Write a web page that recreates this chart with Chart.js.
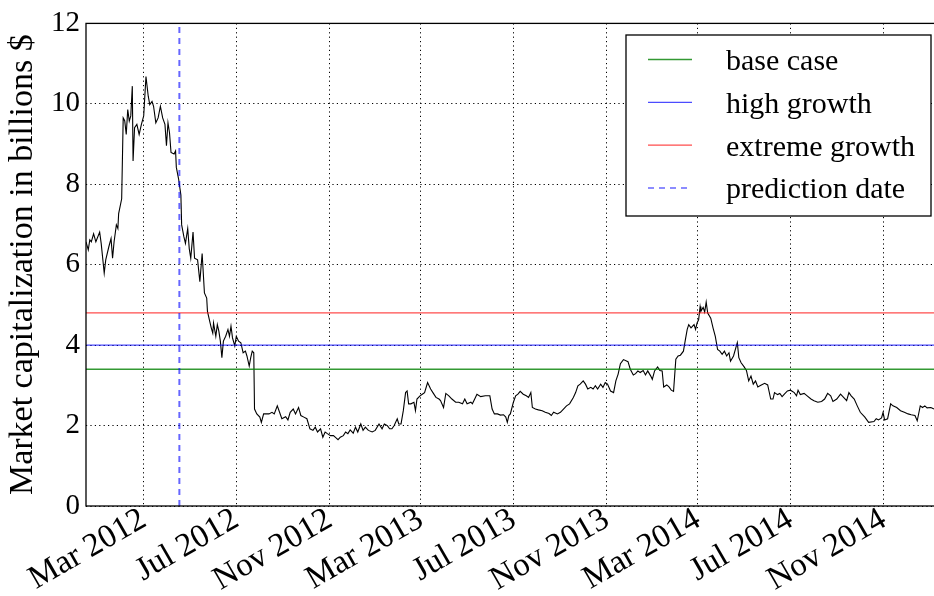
<!DOCTYPE html>
<html>
<head>
<meta charset="utf-8">
<script src="https://cdn.jsdelivr.net/npm/chart.js@4"></script>
<style>
  html, body { margin: 0; padding: 0; background: #fff; overflow: hidden; }
  #wrap { width: 934px; height: 596px; overflow: hidden; }
</style>
</head>
<body>
<div id="wrap"><canvas id="capChart" width="944" height="596"></canvas></div>
<script>
// market cap series, billions $
const capDates = [
  '2011-12-16','2011-12-19','2011-12-21','2011-12-23','2011-12-26','2011-12-29','2012-01-03','2012-01-05','2012-01-09','2012-01-11',
  '2012-01-15','2012-01-18','2012-01-20','2012-01-22','2012-01-25','2012-01-27','2012-01-28','2012-02-01','2012-02-03','2012-02-05',
  '2012-02-07','2012-02-09','2012-02-11','2012-02-13','2012-02-15','2012-02-16','2012-02-18','2012-02-21','2012-02-24','2012-02-27',
  '2012-03-01','2012-03-04','2012-03-07','2012-03-09','2012-03-12','2012-03-14','2012-03-17','2012-03-20','2012-03-23','2012-03-26',
  '2012-03-29','2012-03-31','2012-04-02','2012-04-04','2012-04-06','2012-04-10','2012-04-12','2012-04-13','2012-04-16','2012-04-19',
  '2012-04-20','2012-04-23','2012-04-25','2012-04-28','2012-04-30','2012-05-02','2012-05-05','2012-05-07','2012-05-11','2012-05-14',
  '2012-05-17','2012-05-20','2012-05-23','2012-05-24','2012-05-27','2012-05-29','2012-05-31','2012-06-01','2012-06-04','2012-06-06',
  '2012-06-08','2012-06-10','2012-06-12','2012-06-14','2012-06-17','2012-06-20','2012-06-22','2012-06-24','2012-06-26','2012-06-29',
  '2012-07-01','2012-07-04','2012-07-07','2012-07-10','2012-07-13','2012-07-15','2012-07-18','2012-07-20','2012-07-22','2012-07-24',
  '2012-07-25','2012-07-28','2012-08-01','2012-08-03','2012-08-06','2012-08-11','2012-08-13','2012-08-17','2012-08-20','2012-08-24',
  '2012-08-27','2012-08-30','2012-09-04','2012-09-07','2012-09-10','2012-09-14','2012-09-17','2012-09-21','2012-09-24','2012-09-28',
  '2012-10-02','2012-10-06','2012-10-10','2012-10-13','2012-10-16','2012-10-20','2012-10-23','2012-10-26','2012-10-29','2012-11-02',
  '2012-11-06','2012-11-09','2012-11-12','2012-11-15','2012-11-19','2012-11-22','2012-11-25','2012-11-28','2012-12-02','2012-12-05',
  '2012-12-08','2012-12-12','2012-12-15','2012-12-18','2012-12-22','2012-12-27','2012-12-31','2013-01-05','2013-01-09','2013-01-12',
  '2013-01-16','2013-01-19','2013-01-22','2013-01-25','2013-01-29','2013-01-31','2013-02-03','2013-02-06','2013-02-09','2013-02-11',
  '2013-02-13','2013-02-16','2013-02-20','2013-02-22','2013-02-24','2013-02-28','2013-03-03','2013-03-06','2013-03-10','2013-03-14',
  '2013-03-17','2013-03-21','2013-03-25','2013-03-27','2013-03-31','2013-04-03','2013-04-07','2013-04-11','2013-04-16','2013-04-20',
  '2013-04-25','2013-04-28','2013-05-01','2013-05-06','2013-05-08','2013-05-12','2013-05-14','2013-05-19','2013-05-25','2013-05-31',
  '2013-06-03','2013-06-06','2013-06-10','2013-06-14','2013-06-18','2013-06-21','2013-06-23','2013-06-25','2013-06-27','2013-07-01',
  '2013-07-04','2013-07-07','2013-07-10','2013-07-14','2013-07-18','2013-07-21','2013-07-24','2013-07-26','2013-07-30','2013-08-03',
  '2013-08-08','2013-08-12','2013-08-17','2013-08-20','2013-08-23','2013-08-28','2013-09-01','2013-09-05','2013-09-09','2013-09-13',
  '2013-09-18','2013-09-21','2013-09-24','2013-09-27','2013-10-01','2013-10-04','2013-10-07','2013-10-11','2013-10-14','2013-10-17',
  '2013-10-20','2013-10-24','2013-10-27','2013-10-30','2013-11-02','2013-11-06','2013-11-10','2013-11-13','2013-11-16','2013-11-19',
  '2013-11-23','2013-11-29','2013-12-02','2013-12-06','2013-12-09','2013-12-12','2013-12-15','2013-12-19','2013-12-22','2013-12-25',
  '2013-12-29','2013-12-31','2014-01-03','2014-01-07','2014-01-10','2014-01-13','2014-01-15','2014-01-19','2014-01-22','2014-01-25',
  '2014-01-28','2014-01-31','2014-02-03','2014-02-06','2014-02-10','2014-02-13','2014-02-15','2014-02-17','2014-02-20','2014-02-24',
  '2014-02-26','2014-02-28','2014-03-02','2014-03-04','2014-03-05','2014-03-08','2014-03-10','2014-03-12','2014-03-14','2014-03-18',
  '2014-03-21','2014-03-24','2014-03-27','2014-03-30','2014-04-02','2014-04-05','2014-04-08','2014-04-11','2014-04-13','2014-04-17',
  '2014-04-20','2014-04-22','2014-04-24','2014-04-27','2014-05-01','2014-05-04','2014-05-07','2014-05-10','2014-05-13','2014-05-16',
  '2014-05-19','2014-05-23','2014-05-28','2014-06-01','2014-06-05','2014-06-08','2014-06-10','2014-06-14','2014-06-17','2014-06-20',
  '2014-06-23','2014-06-27','2014-07-01','2014-07-06','2014-07-09','2014-07-11','2014-07-14','2014-07-19','2014-07-23','2014-07-28',
  '2014-08-01','2014-08-06','2014-08-11','2014-08-15','2014-08-19','2014-08-23','2014-08-26','2014-08-31','2014-09-05','2014-09-09',
  '2014-09-13','2014-09-16','2014-09-19','2014-09-23','2014-09-27','2014-10-01','2014-10-07','2014-10-12','2014-10-19','2014-10-22',
  '2014-10-25','2014-10-29','2014-10-31','2014-11-02','2014-11-06','2014-11-10','2014-11-13','2014-11-18','2014-11-23','2014-11-28',
  '2014-12-03','2014-12-07','2014-12-12','2014-12-15','2014-12-19','2014-12-22','2014-12-25','2014-12-28','2015-01-02','2015-01-06'
];
const capValues = [
  6.57,6.37,6.62,6.57,6.77,6.57,6.81,6.53,5.79,6.12,
  6.44,6.65,6.16,6.57,6.99,6.90,7.27,7.64,9.65,9.58,
  9.24,9.86,9.57,9.70,10.44,8.58,9.41,9.49,9.24,9.49,
  9.70,10.68,10.19,9.98,10.06,9.94,9.53,9.65,9.94,9.65,
  9.49,8.96,9.53,9.28,8.79,8.75,8.83,8.42,8.13,7.73,
  6.99,6.69,6.53,6.90,6.40,6.16,6.81,6.16,6.12,5.58,
  6.28,5.30,5.17,4.84,4.59,4.43,4.30,4.55,4.22,4.51,
  4.35,4.10,3.69,4.10,4.22,4.39,4.22,4.47,4.18,3.98,
  4.22,4.10,4.06,3.81,3.85,3.73,3.48,3.69,3.85,3.81,
  2.41,2.29,2.21,2.08,2.29,2.29,2.29,2.33,2.29,2.49,
  2.33,2.17,2.22,2.14,2.33,2.41,2.29,2.45,2.25,2.21,
  2.17,1.92,1.88,1.96,1.84,1.92,1.71,1.84,1.80,1.75,
  1.75,1.70,1.65,1.71,1.75,1.84,1.80,1.89,1.81,1.96,
  1.84,2.04,1.88,1.96,1.88,1.84,1.88,2.04,1.92,2.04,
  2.00,1.92,1.92,2.00,2.17,2.04,2.04,2.37,2.82,2.86,
  2.54,2.54,2.58,2.37,2.66,2.74,2.78,2.82,3.07,2.91,
  2.82,2.70,2.66,2.62,2.45,2.80,2.74,2.66,2.58,2.58,
  2.54,2.66,2.54,2.58,2.54,2.70,2.78,2.72,2.74,2.74,
  2.41,2.29,2.29,2.26,2.27,2.21,2.08,2.25,2.29,2.58,
  2.74,2.78,2.85,2.78,2.74,2.70,2.82,2.45,2.41,2.39,
  2.37,2.33,2.30,2.25,2.33,2.29,2.33,2.41,2.49,2.54,
  2.70,2.82,2.99,3.03,3.11,3.03,2.91,2.95,2.91,2.99,
  2.91,3.03,2.95,3.07,3.03,2.86,2.82,3.11,3.28,3.54,
  3.64,3.59,3.40,3.26,3.29,3.36,3.32,3.37,3.26,3.36,
  3.23,3.15,3.36,3.46,3.37,3.36,2.96,3.01,2.96,2.88,
  2.85,3.65,3.73,3.75,3.85,4.18,4.39,4.51,4.43,4.51,
  4.39,4.55,4.63,4.96,4.84,4.94,4.82,5.07,4.80,4.67,
  4.43,4.22,3.89,3.85,3.77,3.85,3.73,3.81,3.60,3.73,
  3.93,4.06,3.69,3.56,3.46,3.37,3.11,3.23,3.03,3.11,
  2.96,3.00,3.05,3.01,2.66,2.66,2.82,2.77,2.80,2.72,
  2.78,2.86,2.88,2.82,2.74,2.88,2.77,2.80,2.74,2.66,
  2.62,2.58,2.60,2.66,2.80,2.74,2.60,2.66,2.78,2.70,
  2.62,2.82,2.74,2.66,2.49,2.33,2.21,2.08,2.10,2.17,
  2.14,2.19,2.33,2.14,2.17,2.54,2.49,2.45,2.37,2.33,
  2.29,2.27,2.25,2.12,2.49,2.45,2.49,2.44,2.45,2.41
];

const scenarioLabels = ['base case', 'high growth', 'extreme growth'];
const scenarioValues = [3.4, 4.0, 4.8];
const scenarioColors = ['rgba(0,128,0,0.8)', 'rgba(0,0,255,0.7)', 'rgba(255,0,0,0.7)'];

const predictionDate = '2012-04-17';
const xRange = ['2011-12-16', '2015-01-14'];
const xTickDates = ['2012-03-01','2012-07-01','2012-11-01','2013-03-01','2013-07-01','2013-11-01','2014-03-01','2014-07-01','2014-11-01'];
const yTicks = [0, 2, 4, 6, 8, 10, 12];
const monthNames = ['Jan','Feb','Mar','Apr','May','Jun','Jul','Aug','Sep','Oct','Nov','Dec'];

const SERIF = "'Liberation Serif', 'DejaVu Serif', serif";
const xMin = Date.parse(xRange[0]);
const xMax = Date.parse(xRange[1]);

const datasets = [{
  label: '',
  data: capDates.map((d, i) => ({x: Date.parse(d), y: capValues[i]})),
  borderColor: '#000',
  borderWidth: 1.1,
  pointRadius: 0,
  tension: 0,
  order: 5
}];
scenarioLabels.forEach((lab, i) => {
  datasets.push({
    label: lab,
    data: [{x: xMin, y: scenarioValues[i]}, {x: xMax, y: scenarioValues[i]}],
    borderColor: scenarioColors[i],
    borderWidth: 1.3,
    pointRadius: 0,
    order: 2
  });
});
datasets.push({
  label: 'prediction date',
  data: [{x: Date.parse(predictionDate), y: yTicks[0]}, {x: Date.parse(predictionDate), y: yTicks[yTicks.length - 1]}],
  borderColor: 'rgba(0,0,255,0.6)',
  borderWidth: 2,
  borderDash: [6, 5],
  pointRadius: 0,
  order: 1
});

// box around the plot + matplotlib style legend
const frameAndLegend = {
  id: 'frameAndLegend',
  afterDatasetsDraw(chart) {
    const {ctx, chartArea: {left, right, top, bottom}} = chart;
    ctx.save();
    ctx.strokeStyle = '#000';
    ctx.lineWidth = 1.3;
    ctx.strokeRect(left, top, right - left, bottom - top);

    const items = chart.data.datasets.filter(ds => ds.label);
    const bx = 626, by = 35, bw = 305, bh = 181;
    ctx.fillStyle = '#fff';
    ctx.fillRect(bx, by, bw, bh);
    ctx.strokeStyle = '#000';
    ctx.lineWidth = 1.3;
    ctx.strokeRect(bx, by, bw, bh);
    ctx.font = '30px ' + SERIF;
    ctx.textBaseline = 'alphabetic';
    items.forEach((ds, i) => {
      const y = 59.5 + i * 42.8;
      ctx.beginPath();
      ctx.setLineDash(ds.borderDash || []);
      ctx.strokeStyle = ds.borderColor;
      ctx.lineWidth = ds.borderDash ? 1.5 : 1.3;
      ctx.moveTo(648, y);
      ctx.lineTo(692, y);
      ctx.stroke();
      ctx.setLineDash([]);
      ctx.fillStyle = '#000';
      ctx.fillText(ds.label, 726, y + 10.5);
    });
    ctx.restore();
  }
};

new Chart(document.getElementById('capChart'), {
  type: 'line',
  data: {datasets},
  options: {
    responsive: false,
    animation: false,
    layout: {padding: {left: 0, top: 20, right: 4, bottom: 0}},
    plugins: {legend: {display: false}, tooltip: {enabled: false}},
    scales: {
      x: {
        type: 'linear',
        min: xMin,
        max: xMax,
        afterBuildTicks: (scale) => { scale.ticks = xTickDates.map(d => ({value: Date.parse(d)})); },
        afterFit: (scale) => { scale.height = 90; },
        grid: {color: '#000', lineWidth: 1, drawTicks: false},
        border: {display: false, dash: [1.2, 3.2]},
        ticks: {
          autoSkip: false,
          minRotation: 30,
          maxRotation: 30,
          padding: -6,
          color: '#000',
          font: {family: SERIF, size: 33},
          callback: (v) => { const d = new Date(v); return monthNames[d.getUTCMonth()] + ' ' + d.getUTCFullYear(); }
        }
      },
      y: {
        min: yTicks[0],
        max: yTicks[yTicks.length - 1],
        afterBuildTicks: (scale) => { scale.ticks = yTicks.map(v => ({value: v})); },
        afterFit: (scale) => { scale.width = 86; },
        grid: {color: '#000', lineWidth: 1, drawTicks: false},
        border: {display: false, dash: [1.2, 3.2]},
        ticks: {padding: 6, color: '#000', font: {family: SERIF, size: 29}},
        title: {
          display: true,
          text: 'Market capitalization in billions $',
          color: '#000',
          font: {family: SERIF, size: 34},
          padding: {top: 3, bottom: 0}
        }
      }
    }
  },
  plugins: [frameAndLegend]
});
</script>
</body>
</html>
